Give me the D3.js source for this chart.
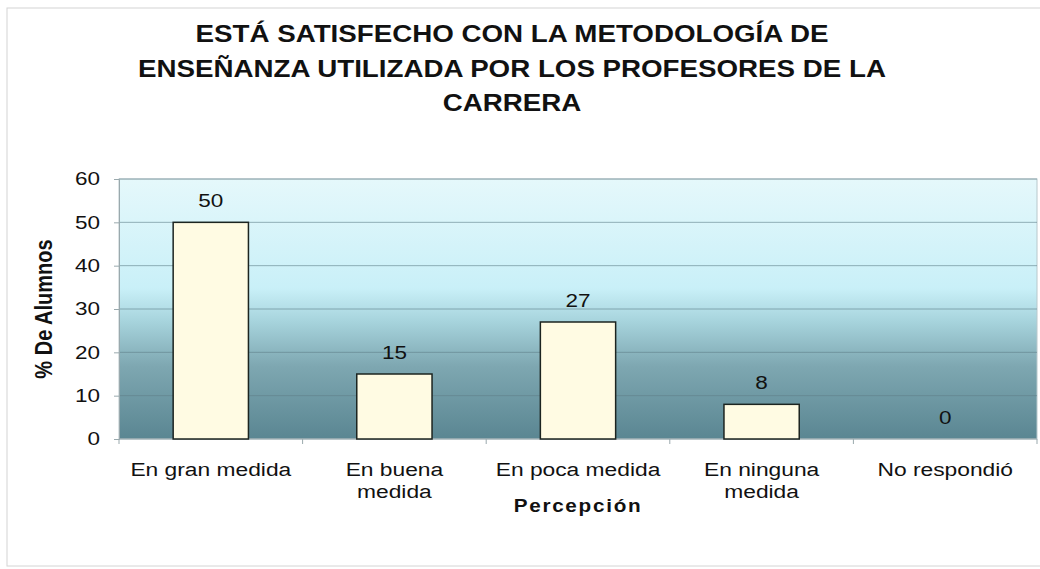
<!DOCTYPE html>
<html>
<head>
<meta charset="utf-8">
<script src="https://cdn.jsdelivr.net/npm/d3@7"></script>
<style>
    body { margin: 0; background: #fff; }
    svg { display: block; font-family: "Liberation Sans", Arial, sans-serif; }
</style>
</head>
<body>
<svg id="chart" width="1040" height="569"></svg>
<script>
// --- Data ---
const categories = [
    ["En gran medida"],
    ["En buena", "medida"],
    ["En poca medida"],
    ["En ninguna", "medida"],
    ["No respondió"],
];
const values = [50, 15, 27, 8, 0];
const yTicks = [0, 10, 20, 30, 40, 50, 60];
const titleLines = [
    "ESTÁ SATISFECHO CON LA METODOLOGÍA DE",
    "ENSEÑANZA UTILIZADA POR LOS PROFESORES DE LA",
    "CARRERA",
];

const width = 1040;
const height = 569;
const margin = { top: 179, right: 3, bottom: 130, left: 119 };
const innerW = width - margin.left - margin.right;
const innerH = height - margin.top - margin.bottom;

// the source picture is a bit wider than tall, so text gets a horizontal stretch
const stretch = (x, y, sx) => `translate(${x},${y}) scale(${sx},1)`;

const svg = d3.select("#chart");
const defs = svg.append("defs");

// Plot background: pale cyan on top, darker teal towards the base
const bgGrad = defs
    .append("linearGradient")
    .attr("id", "plotBg")
    .attr("x1", 0).attr("y1", 0)
    .attr("x2", 0).attr("y2", 1);
[
    ["0%", "#e5f8fb"],
    ["42%", "#c9f0f8"],
    ["55%", "#a6d3dc"],
    ["72%", "#7ea7b1"],
    ["100%", "#5a8692"],
].forEach(([o, c]) => bgGrad.append("stop").attr("offset", o).attr("stop-color", c));

// outer chart frame (faint)
svg.append("rect")
    .attr("x", 7).attr("y", 8)
    .attr("width", 1040).attr("height", 558)
    .attr("fill", "none")
    .attr("stroke", "#d4d4d4")
    .attr("stroke-width", 1);

const g = svg.append("g").attr("transform", `translate(${margin.left},${margin.top})`);

const x = d3.scaleBand()
    .domain(d3.range(categories.length))
    .range([0, innerW])
    .paddingInner(0.59)
    .paddingOuter(0.295);

const y = d3.scaleLinear().domain([0, 60]).range([innerH, 0]);

g.append("rect")
    .attr("width", innerW)
    .attr("height", innerH)
    .attr("fill", "url(#plotBg)")
    .attr("stroke", "#b8c8cc");

// gridlines
g.append("g")
    .selectAll("line")
    .data(yTicks.filter((t) => t > 0))
    .join("line")
    .attr("x1", 0).attr("x2", innerW)
    .attr("y1", (d) => y(d)).attr("y2", (d) => y(d))
    .attr("stroke", "#5f7f88")
    .attr("stroke-opacity", 0.6)
    .attr("stroke-width", 1);

// y axis
const yAxis = g.append("g")
    .call(d3.axisLeft(y).tickValues(yTicks).tickSize(5).tickPadding(14));
yAxis.select(".domain").attr("stroke", "#9aa9ad");
yAxis.selectAll(".tick line").attr("stroke", "#9aa9ad");
yAxis.selectAll("text")
    .each(function () {
        const el = d3.select(this);
        const tx = +el.attr("x");
        el.attr("x", 0).attr("transform", stretch(tx, 0, 1.25));
    })
    .attr("font-size", 18)
    .attr("fill", "#111");

// x axis (ticks between categories)
const bandStep = innerW / categories.length;
const xAxisG = g.append("g").attr("transform", `translate(0,${innerH})`);
xAxisG.append("line")
    .attr("x1", 0).attr("x2", innerW)
    .attr("stroke", "#9aa9ad");
xAxisG.selectAll(".sep")
    .data(d3.range(categories.length + 1))
    .join("line")
    .attr("class", "sep")
    .attr("x1", (i) => i * bandStep).attr("x2", (i) => i * bandStep)
    .attr("y1", 0).attr("y2", 5)
    .attr("stroke", "#9aa9ad");

const catLabels = xAxisG.selectAll(".cat")
    .data(categories)
    .join("text")
    .attr("class", "cat")
    .attr("transform", (d, i) => stretch(x(i) + x.bandwidth() / 2, 37, 1.2))
    .attr("text-anchor", "middle")
    .attr("font-size", 19)
    .attr("fill", "#111");
catLabels.selectAll("tspan")
    .data((d) => d)
    .join("tspan")
    .attr("x", 0)
    .attr("dy", (d, i) => (i === 0 ? 0 : 22))
    .text((d) => d);

// bars
g.selectAll(".bar")
    .data(values)
    .join("rect")
    .attr("class", "bar")
    .attr("x", (d, i) => x(i))
    .attr("y", (d) => y(d))
    .attr("width", x.bandwidth())
    .attr("height", (d) => innerH - y(d))
    .attr("fill", "#fffbe3")
    .attr("stroke", "#1c2420")
    .attr("stroke-width", 1.5)
    .attr("display", (d) => (d > 0 ? null : "none"));

// value labels
g.selectAll(".val")
    .data(values)
    .join("text")
    .attr("class", "val")
    .attr("transform", (d, i) => stretch(x(i) + x.bandwidth() / 2, y(d) - 15, 1.25))
    .attr("text-anchor", "middle")
    .attr("font-size", 18)
    .attr("fill", "#111")
    .text((d) => d);

// title
svg.append("g")
    .selectAll("text")
    .data(titleLines)
    .join("text")
    .attr("transform", (d, i) => stretch(512, 42 + i * 34.5, 1.18))
    .attr("text-anchor", "middle")
    .attr("font-size", 23.5)
    .attr("font-weight", "bold")
    .attr("fill", "#111")
    .text((d) => d);

// axis titles
svg.append("text")
    .attr("transform", `translate(52,${margin.top + innerH / 2}) scale(1.15,1) rotate(-90)`)
    .attr("text-anchor", "middle")
    .attr("font-size", 20)
    .attr("font-weight", "bold")
    .attr("fill", "#111")
    .text("% De Alumnos");

svg.append("text")
    .attr("transform", stretch(margin.left + innerW / 2, 512, 1.15))
    .attr("text-anchor", "middle")
    .attr("font-size", 18)
    .attr("font-weight", "bold")
    .attr("letter-spacing", 1.5)
    .attr("fill", "#111")
    .text("Percepción");
</script>
</body>
</html>
